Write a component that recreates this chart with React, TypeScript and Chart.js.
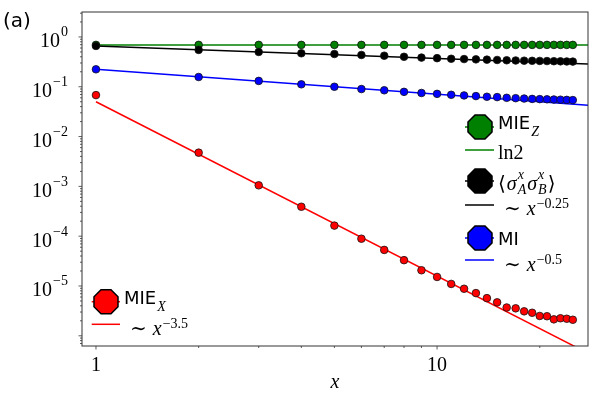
import React, { useEffect, useRef } from "react";
import { Chart, registerables } from "chart.js";
import type { Plugin } from "chart.js";

Chart.register(...registerables);

// distance between the two blocks
const distances = [1, 2, 3, 4, 5, 6, 7, 8, 9, 10, 11, 12, 13, 14, 15, 16, 17, 18, 19, 20, 21, 22, 23, 24, 25];

const mieZ = [
  0.693, 0.693, 0.693, 0.693, 0.693, 0.693, 0.693, 0.693, 0.693, 0.693, 0.693, 0.693, 0.693,
  0.693, 0.693, 0.693, 0.693, 0.693, 0.693, 0.693, 0.693, 0.693, 0.693, 0.693, 0.693,
];
const corrXX = [
  0.66, 0.55, 0.5, 0.47, 0.455, 0.435, 0.42, 0.4, 0.385, 0.375, 0.365, 0.36, 0.355,
  0.35, 0.345, 0.34, 0.337, 0.334, 0.332, 0.33, 0.328, 0.326, 0.324, 0.322, 0.32,
];
const mutualInfo = [
  0.224, 0.157, 0.131, 0.112, 0.1, 0.09, 0.085, 0.079, 0.075, 0.072, 0.069, 0.067, 0.065,
  0.063, 0.062, 0.06, 0.059, 0.058, 0.057, 0.0565, 0.056, 0.0555, 0.055, 0.0545, 0.054,
];
const mieX = [
  0.068, 0.00475, 0.00105, 3.9e-4, 1.63e-4, 8.9e-5, 5.3e-5, 3.3e-5, 2.07e-5, 1.52e-5, 1.1e-5,
  8.8e-6, 7.2e-6, 5.7e-6, 4.7e-6, 3.7e-6, 3.56e-6, 3.1e-6, 2.9e-6, 2.5e-6, 2.47e-6, 2.14e-6,
  2.25e-6, 2.2e-6, 2.1e-6,
];

// guide lines (straight in log-log), start and end
const fitX = [1, 28];
const ln2Line = [0.693, 0.693];
const corrFit = [0.66, 0.287];
const miFit = [0.224, 0.0423];
const mieXFit = [0.05, 4.3e-7];

const xLabelTicks = [1, 10];
const xMinorTicks = [2, 3, 4, 5, 6, 7, 8, 9, 20];
const yLabelDecades = [-5, -4, -3, -2, -1, 0];
const yTickDecades = [-6, -5, -4, -3, -2, -1, 0];

const X_MIN = 0.91;
const X_MAX = 27.7;
const Y_MIN = 6.24e-7;
const Y_MAX = 3.17;

const yMinorTicks: number[] = [];
for (let d = -7; d <= 0; d++) {
  for (let k = 2; k <= 9; k++) {
    const v = k * Math.pow(10, d);
    if (v > Y_MIN && v < Y_MAX) yMinorTicks.push(v);
  }
}
const yMajorTicks = yTickDecades.map((d) => Math.pow(10, d));

const GREEN = "#008000";
const BLUE = "#0000ff";
const RED = "#ff0000";
const BLACK = "#000000";

const SERIF = '"Liberation Serif", "DejaVu Serif", "DejaVu Sans", serif';
const MATH_IT = `italic 20px ${SERIF}`;
const MATH_RM = `20px ${SERIF}`;
const MATH_SM = `14px ${SERIF}`;
const MATH_SM_IT = `italic 14px ${SERIF}`;
const SIM = '20px "DejaVu Serif", serif';
const SANS = '18px "DejaVu Sans", sans-serif';

const toPts = (ys: number[]) => ys.map((y, i) => ({ x: distances[i], y }));
const toLine = (ys: number[]) => ys.map((y, i) => ({ x: fitX[i], y }));

interface Piece {
  text: string;
  font: string;
  dy?: number;
  gap?: number;
  under?: string;
  underDy?: number;
}

function drawRich(ctx: CanvasRenderingContext2D, pieces: Piece[], x: number, base: number) {
  let cx = x;
  ctx.textAlign = "left";
  ctx.textBaseline = "alphabetic";
  ctx.fillStyle = "#000";
  for (const p of pieces) {
    cx += p.gap ?? 0;
    ctx.font = p.font;
    ctx.fillText(p.text, cx, base + (p.dy ?? 0));
    let w = ctx.measureText(p.text).width;
    if (p.under) {
      ctx.fillText(p.under, cx, base + (p.underDy ?? 0));
      w = Math.max(w, ctx.measureText(p.under).width);
    }
    cx += w;
  }
  return cx - x;
}

function octagon(ctx: CanvasRenderingContext2D, cx: number, cy: number, r: number, fill: string) {
  ctx.beginPath();
  for (let k = 0; k < 8; k++) {
    const a = Math.PI / 8 + (k * Math.PI) / 4;
    const px = cx + r * Math.cos(a);
    const py = cy + r * Math.sin(a);
    if (k === 0) ctx.moveTo(px, py);
    else ctx.lineTo(px, py);
  }
  ctx.closePath();
  ctx.fillStyle = fill;
  ctx.fill();
  ctx.lineWidth = 1.5;
  ctx.strokeStyle = "#000";
  ctx.stroke();
}

function handle(ctx: CanvasRenderingContext2D, x0: number, x1: number, y: number, color: string) {
  ctx.beginPath();
  ctx.moveTo(x0, y);
  ctx.lineTo(x1, y);
  ctx.lineWidth = 1.5;
  ctx.strokeStyle = color;
  ctx.stroke();
}

const simPow = (exp: string): Piece[] => [
  { text: "∼", font: SIM },
  { text: "x", font: MATH_IT, gap: 6 },
  { text: exp, font: MATH_SM, dy: -7, gap: 1 },
];

const decorPlugin: Plugin<"scatter"> = {
  id: "decor",
  afterDraw(chart) {
    const { ctx, chartArea: area, scales } = chart;
    const xs = scales.x;
    const ys = scales.y;
    ctx.save();

    // frame
    ctx.strokeStyle = "#333";
    ctx.lineWidth = 1;
    ctx.strokeRect(area.left, area.top, area.right - area.left, area.bottom - area.top);

    // tick marks
    ctx.lineWidth = 0.8;
    const xTick = (v: number, len: number) => {
      const px = xs.getPixelForValue(v);
      ctx.beginPath();
      ctx.moveTo(px, area.bottom);
      ctx.lineTo(px, area.bottom + len);
      ctx.stroke();
    };
    const yTick = (v: number, len: number) => {
      const py = ys.getPixelForValue(v);
      ctx.beginPath();
      ctx.moveTo(area.left - len, py);
      ctx.lineTo(area.left, py);
      ctx.stroke();
    };
    xLabelTicks.forEach((v) => xTick(v, 3.5));
    xMinorTicks.forEach((v) => xTick(v, 2));
    yMajorTicks.forEach((v) => yTick(v, 3.5));
    yMinorTicks.forEach((v) => yTick(v, 2));

    // y tick labels 10^n
    ctx.fillStyle = "#000";
    yLabelDecades.forEach((d) => {
      const py = ys.getPixelForValue(Math.pow(10, d));
      const exp = d < 0 ? `−${-d}` : `${d}`;
      ctx.font = MATH_RM;
      const wBase = ctx.measureText("10").width;
      ctx.font = MATH_SM;
      const wExp = ctx.measureText(exp).width;
      const x0 = area.left - 14 - wBase - wExp - 1;
      drawRich(ctx, [
        { text: "10", font: MATH_RM },
        { text: exp, font: MATH_SM, dy: -11, gap: 1 },
      ], x0, py + 10.5);
    });

    // x axis title
    ctx.font = MATH_IT;
    ctx.textAlign = "center";
    ctx.fillText("x", (area.left + area.right) / 2, 388);

    // panel tag
    ctx.font = '20px "DejaVu Sans", sans-serif';
    ctx.textAlign = "left";
    ctx.fillText("(a)", 3, 26.5);

    // right legend
    const hx0 = 465;
    const hx1 = 494;
    const mx = 480;
    const tx = 498;
    handle(ctx, hx0, hx1, 127, GREEN);
    octagon(ctx, mx, 127, 13, GREEN);
    drawRich(ctx, [
      { text: "MIE", font: SANS },
      { text: "Z", font: MATH_SM_IT, dy: 7.5, gap: 1 },
    ], tx, 128.5);

    handle(ctx, hx0, hx1, 150, GREEN);
    drawRich(ctx, [{ text: "ln2", font: MATH_RM }], tx, 159);

    handle(ctx, hx0, hx1, 181, BLACK);
    octagon(ctx, mx, 181, 13, BLACK);
    drawRich(ctx, [
      { text: "⟨", font: MATH_RM },
      { text: "σ", font: MATH_IT, gap: 1 },
      { text: "x", font: MATH_SM_IT, dy: -11, under: "A", underDy: 4, gap: 1 },
      { text: "σ", font: MATH_IT, gap: 1 },
      { text: "x", font: MATH_SM_IT, dy: -11, under: "B", underDy: 4, gap: 1 },
      { text: "⟩", font: MATH_RM, gap: 1 },
    ], tx, 190);

    handle(ctx, hx0, hx1, 205, BLACK);
    drawRich(ctx, simPow("−0.25"), tx + 6, 214.5);

    handle(ctx, hx0, hx1, 238, BLUE);
    octagon(ctx, mx, 238, 13, BLUE);
    drawRich(ctx, [{ text: "MI", font: SANS }], tx, 245);

    handle(ctx, hx0, hx1, 260, BLUE);
    drawRich(ctx, simPow("−0.5"), tx + 6, 270.5);

    // left legend
    handle(ctx, 91.7, 120, 301.7, RED);
    octagon(ctx, 106, 301.7, 13, RED);
    drawRich(ctx, [
      { text: "MIE", font: SANS },
      { text: "X", font: MATH_SM_IT, dy: 7, gap: 1 },
    ], 124, 303.5);

    handle(ctx, 91.7, 120, 324.3, RED);
    drawRich(ctx, simPow("−3.5"), 130, 335);

    ctx.restore();
  },
};

const pointSet = (label: string, ys: number[], color: string, order: number) => ({
  label,
  data: toPts(ys),
  showLine: false,
  backgroundColor: color,
  borderColor: "#111",
  pointBackgroundColor: color,
  pointBorderColor: "#111",
  pointBorderWidth: 0.8,
  pointRadius: 3.8,
  order,
});

const lineSet = (label: string, ys: number[], color: string) => ({
  label,
  data: toLine(ys),
  showLine: true,
  borderColor: color,
  backgroundColor: color,
  borderWidth: 1.5,
  pointRadius: 0,
  order: 10,
});

const App: React.FC = () => {
  const chartRef = useRef<HTMLCanvasElement | null>(null);
  const chartInstance = useRef<Chart | null>(null);

  useEffect(() => {
    document.body.style.margin = "0";
    if (!chartRef.current) return;

    chartInstance.current = new Chart(chartRef.current, {
      type: "scatter",
      data: {
        datasets: [
          pointSet("MIE_X", mieX, RED, 1),
          pointSet("MI", mutualInfo, BLUE, 2),
          pointSet("<sxsx>", corrXX, BLACK, 3),
          pointSet("MIE_Z", mieZ, GREEN, 4),
          lineSet("x^-3.5", mieXFit, RED),
          lineSet("x^-0.5", miFit, BLUE),
          lineSet("x^-0.25", corrFit, BLACK),
          lineSet("ln2", ln2Line, GREEN),
        ],
      },
      options: {
        responsive: false,
        animation: false,
        events: [],
        layout: { padding: { top: 12, right: 12, left: 0, bottom: 0 } },
        plugins: {
          legend: { display: false },
          tooltip: { enabled: false },
        },
        scales: {
          x: {
            type: "logarithmic",
            min: X_MIN,
            max: X_MAX,
            grid: { display: false, drawTicks: true, tickLength: 4 },
            border: { display: false },
            afterBuildTicks: (scale) => {
              scale.ticks = [...xLabelTicks, ...xMinorTicks]
                .sort((a, b) => a - b)
                .map((value) => ({ value }));
            },
            afterFit: (scale) => {
              scale.height = 54;
            },
            ticks: {
              autoSkip: false,
              maxRotation: 0,
              padding: 4,
              color: "#000",
              font: { family: SERIF, size: 20 },
              callback: (value) => (xLabelTicks.includes(Number(value)) ? String(value) : ""),
            },
          },
          y: {
            type: "logarithmic",
            min: Y_MIN,
            max: Y_MAX,
            grid: { display: false },
            border: { display: false },
            afterBuildTicks: (scale) => {
              scale.ticks = [...yMajorTicks, ...yMinorTicks]
                .sort((a, b) => a - b)
                .map((value) => ({ value }));
            },
            afterFit: (scale) => {
              scale.width = 82;
            },
            ticks: { display: false },
          },
        },
      },
      plugins: [decorPlugin],
    });

    return () => {
      chartInstance.current?.destroy();
      chartInstance.current = null;
    };
  }, []);

  return (
    <div style={{ width: 600, height: 400 }}>
      <canvas ref={chartRef} width={600} height={400} />
    </div>
  );
};

export default App;
